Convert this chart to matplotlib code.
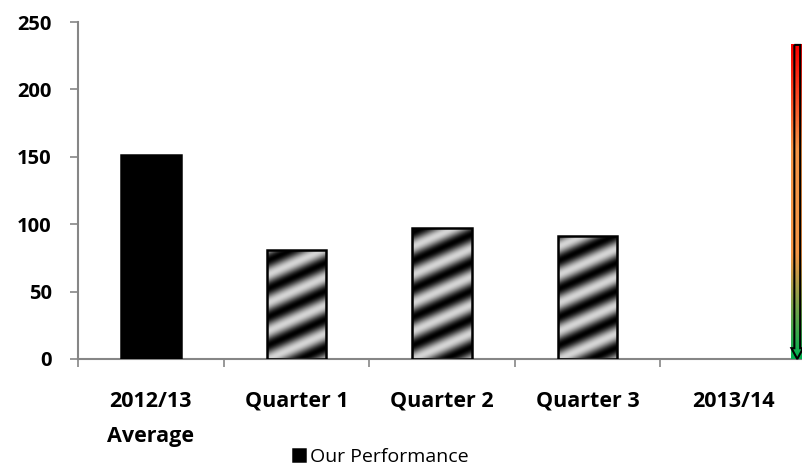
import numpy as np
import matplotlib.pyplot as plt
from matplotlib.patches import Polygon
from matplotlib.colors import LinearSegmentedColormap

# données du graphique
categories = ["2012/13\nAverage", "Quarter 1", "Quarter 2", "Quarter 3", "2013/14"]
values = [151, 81, 97, 91, np.nan]
legend_label = "Our Performance"
y_ticks = [0, 50, 100, 150, 200, 250]

plt.rcParams['font.family'] = ['Open Sans', 'DejaVu Sans']
axis_grey = "#868686"

fig = plt.figure(figsize=(8.02, 4.70), dpi=100)
ax = fig.add_axes([78 / 802, 1 - 359 / 470, 728 / 802, 337 / 470])

x = np.arange(len(categories))
bars = ax.bar(x, values, width=0.41, color="black", edgecolor="black",
              linewidth=1.8, zorder=3)

ax.set_xlim(-0.5, 4.5)
ax.set_ylim(0, 250)

# barres hachurées en dégradé (rayures diagonales)
px_x = 728 / 5
px_y = 337 / 250
for b in list(bars)[1:4]:
    x0, w, h = b.get_x(), b.get_width(), b.get_height()
    nw, nh = int(w * px_x), int(h * px_y)
    jj, ii = np.meshgrid(np.arange(nw), np.arange(nh))
    yy = nh - ii
    phase = (yy - 0.45 * jj) / 28.0
    img = 0.5 + 0.5 * np.cos(2 * np.pi * phase)
    im = ax.imshow(img, extent=(x0, x0 + w, 0, h), cmap="gray", vmin=0, vmax=1.2,
                   aspect="auto", zorder=2, interpolation="bilinear")
    im.set_clip_path(b)
    b.set_facecolor("none")

# flèche en dégradé rouge -> orange -> vert
arrow_x, arrow_top, arrow_bot = 4.44, 233, 0
hw, HW, hl = 0.02, 0.04, 8
pts = [(arrow_x - hw, arrow_top), (arrow_x + hw, arrow_top), (arrow_x + hw, arrow_bot + hl),
       (arrow_x + HW, arrow_bot + hl), (arrow_x, arrow_bot), (arrow_x - HW, arrow_bot + hl),
       (arrow_x - hw, arrow_bot + hl)]
arrow = Polygon(pts, closed=True, facecolor="none", edgecolor="black", linewidth=1.5,
                zorder=5, clip_on=False)
ax.add_patch(arrow)
cmap = LinearSegmentedColormap.from_list("rag", ["#00B050", "#F79646", "#F79646", "#FF0000"])
grad = np.linspace(1, 0, 200).reshape(-1, 1)
gim = ax.imshow(grad, extent=(arrow_x - HW, arrow_x + HW, arrow_bot, arrow_top), cmap=cmap,
                aspect="auto", zorder=4, clip_on=False)
gim.set_clip_path(arrow)
ax.set_xlim(-0.5, 4.5)
ax.set_ylim(0, 250)

# axes
for s in ["top", "right"]:
    ax.spines[s].set_visible(False)
for s in ["left", "bottom"]:
    ax.spines[s].set_color(axis_grey)
    ax.spines[s].set_linewidth(1.5)

ax.set_yticks(y_ticks)
ax.set_yticklabels([str(v) for v in y_ticks], fontweight="bold", fontsize=14.5)
ax.tick_params(axis="y", length=6, width=1.2, color=axis_grey, pad=13)

ax.set_xticks(np.arange(-0.5, 5, 1))
ax.set_xticklabels([])
ax.tick_params(axis="x", which="major", length=6, width=1.2, color=axis_grey)
ax.set_xticks(x, minor=True)
ax.set_xticklabels(categories, minor=True, fontweight="bold", fontsize=15.5, linespacing=1.85)
ax.tick_params(axis="x", which="minor", length=0, pad=23)

fig.legend(handles=[bars[0]], labels=[legend_label], loc="center",
           bbox_to_anchor=(381 / 802, 1 - 457 / 470), frameon=False, fontsize=14,
           handlelength=0.6, handleheight=0.6, handletextpad=0.25)

fig.savefig("out.png", dpi=100)
